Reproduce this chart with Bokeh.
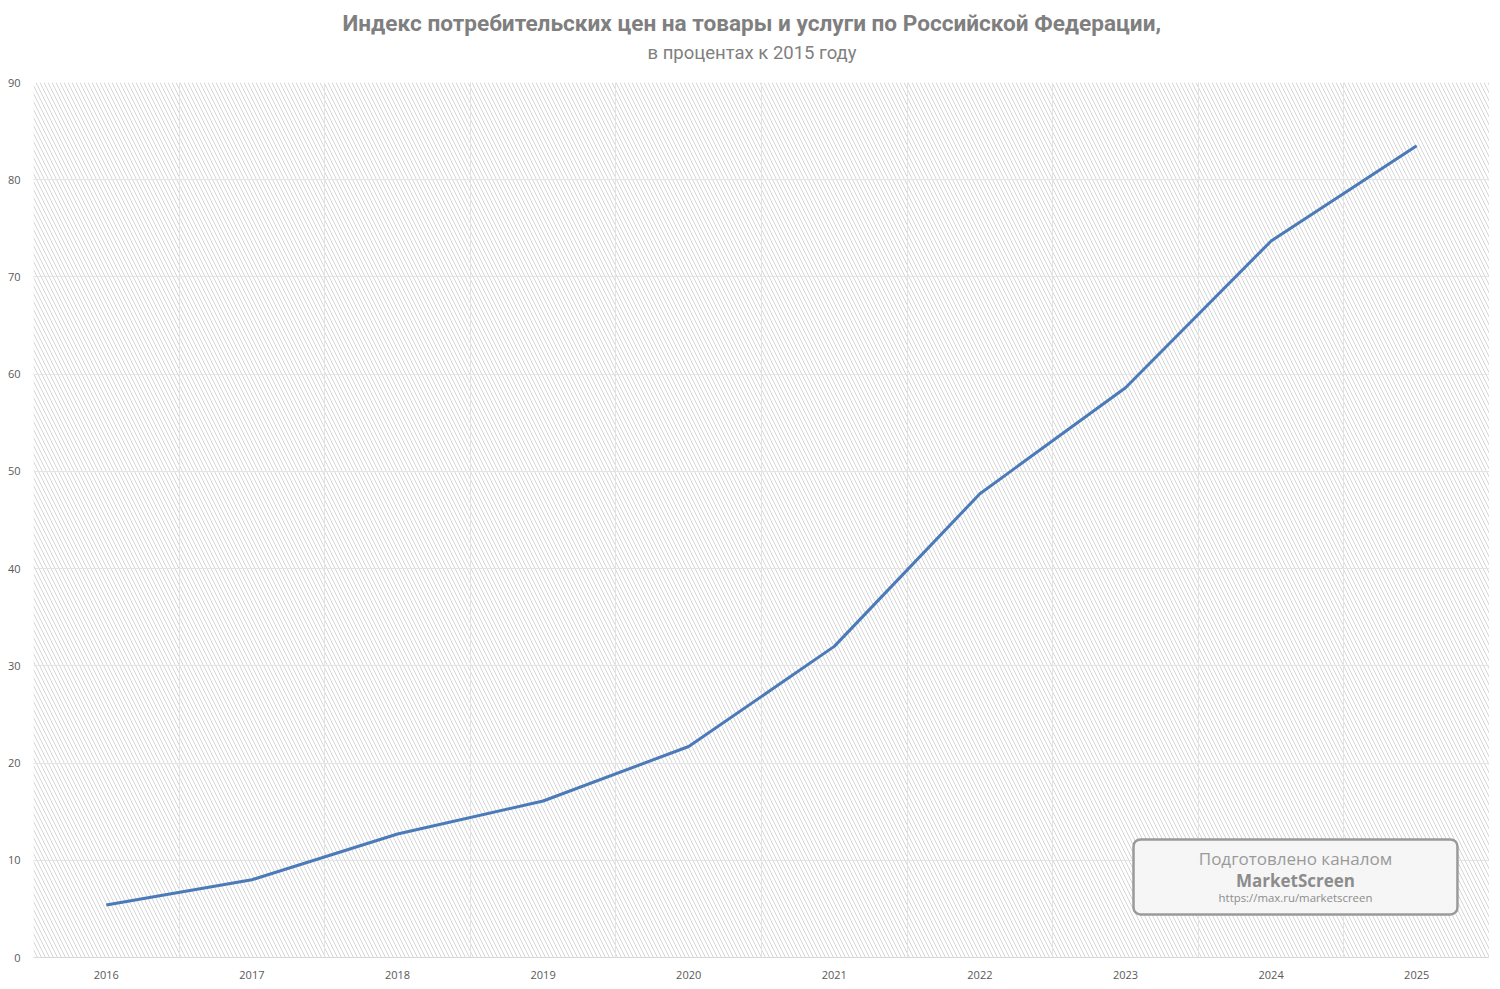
from bokeh.plotting import figure
from bokeh.models import (FactorRange, Range1d, Title, BoxAnnotation, Label,
                          SingleIntervalTicker, FixedTicker, ColumnDataSource)
from bokeh.embed import file_html
from bokeh.resources import INLINE

# ---- data ----
years = ["2016", "2017", "2018", "2019", "2020", "2021", "2022", "2023", "2024", "2025"]
cpi_vs_2015 = [5.4, 8.0, 12.7, 16.1, 21.7, 32.0, 47.7, 58.6, 73.7, 83.5]

title_main = "Индекс потребительских цен на товары и услуги по Российской Федерации,"
title_sub = "в процентах к 2015 году"
wm_line1 = "Подготовлено каналом"
wm_line2 = "MarketScreen"
wm_line3 = "https://max.ru/marketscreen"

src = ColumnDataSource(dict(year=years, cpi=cpi_vs_2015))

p = figure(width=1489, height=981, x_range=FactorRange(*years), y_range=Range1d(0, 90),
           output_backend="svg", toolbar_location=None, title=None,
           min_border_left=33, min_border_right=0, min_border_bottom=24, min_border_top=82)
p.outline_line_color = None
p.background_fill_color = "white"

# titles (first added = closest to plot)
p.add_layout(Title(text=title_sub, align="left", offset=614, text_font="Roboto",
                   text_font_size="18.5px", text_font_style="normal", text_color="#7f7f7f",
                   text_line_height=0.7, standoff=38), "above")
p.add_layout(Title(text=title_main, align="left", offset=309, text_font="Roboto",
                   text_font_size="22.6px", text_font_style="bold", text_color="#7f7f7f",
                   standoff=-32), "above")

# hatched plot background
bg = BoxAnnotation(fill_color="white", fill_alpha=1.0, line_color=None,
                   hatch_pattern="\\", hatch_color="#d6d6d6", hatch_scale=8, hatch_weight=1,
                   level="image")
p.add_layout(bg)

# grids
p.ygrid.ticker = SingleIntervalTicker(interval=10)
p.ygrid.grid_line_color = "#e4e4e4"
p.ygrid.grid_line_width = 1
p.xgrid.ticker = FixedTicker(ticks=list(range(1, len(years))))
p.xgrid.grid_line_color = "#e4e4e4"
p.xgrid.grid_line_width = 1

# axes
p.yaxis.ticker = SingleIntervalTicker(interval=10)
p.yaxis.axis_line_color = None
p.yaxis.major_tick_line_color = None
p.yaxis.major_tick_out = 0
p.yaxis.minor_tick_line_color = None
p.yaxis.minor_tick_out = 0
p.yaxis.major_label_text_font = "Open Sans"
p.yaxis.major_label_text_font_size = "11px"
p.yaxis.major_label_text_color = "#595959"
p.yaxis.major_label_standoff = 13

p.xaxis.axis_line_color = "#d9d9d9"
p.xaxis.axis_line_width = 1
p.xaxis.major_tick_line_color = None
p.xaxis.major_tick_out = 0
p.xaxis.minor_tick_line_color = None
p.xaxis.minor_tick_out = 0
p.xaxis.major_label_text_font = "Open Sans"
p.xaxis.major_label_text_font_size = "11px"
p.xaxis.major_label_text_color = "#595959"
p.xaxis.major_label_standoff = 13

# series
p.line(x="year", y="cpi", source=src, line_color="#4a7ab8", line_width=3)

# watermark box
wm = BoxAnnotation(left=7.555, right=9.78, bottom=4.43, top=12.15,
                   fill_color="#f6f6f6", fill_alpha=0.95, line_color="#9a9a9a", line_alpha=1.0,
                   line_width=2.5, border_radius=7, level="overlay")
p.add_layout(wm)
cx = (7.555 + 9.78) / 2
p.add_layout(Label(x=cx, y=10.2, text=wm_line1, text_align="center", text_baseline="middle",
                   text_font="Open Sans", text_font_size="17px", text_color="#9a9a9a", level="overlay"))
p.add_layout(Label(x=cx, y=7.95, text=wm_line2, text_align="center", text_baseline="middle",
                   text_font="Open Sans", text_font_size="17px", text_font_style="bold",
                   text_color="#8c8c8c", level="overlay"))
p.add_layout(Label(x=cx, y=6.2, text=wm_line3, text_align="center", text_baseline="middle",
                   text_font="Open Sans", text_font_size="11.4px", text_color="#8c8c8c", level="overlay"))

open("out.html", "w").write(file_html(p, INLINE))
